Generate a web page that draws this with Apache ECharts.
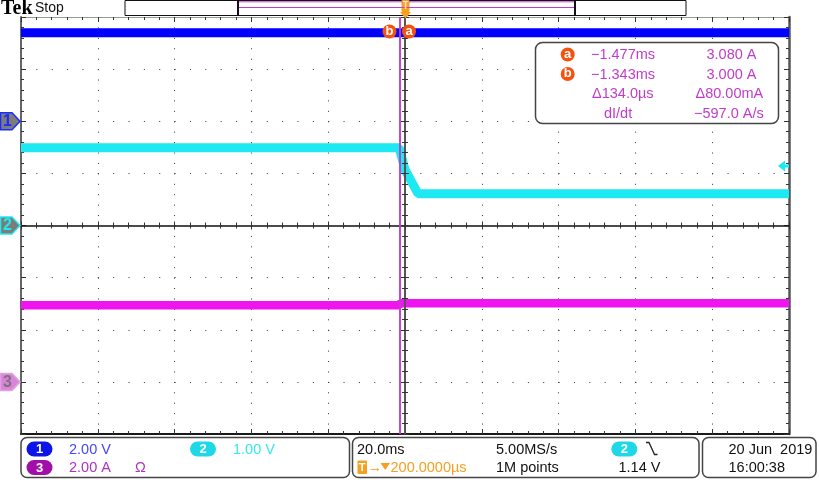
<!DOCTYPE html>
<html><head><meta charset="utf-8">
<script src="https://cdn.jsdelivr.net/npm/echarts@6/dist/echarts.min.js"></script>
<style>html,body{margin:0;padding:0;background:#fff}#c{width:819px;height:500px}</style>
</head><body><div id="c"></div>
<script>
// ---- data ----
// time axis in ms: 20.0 ms/div, 10 divisions
const timeTicks = [-100, -80, -60, -40, -20, 0, 20, 40, 60, 80, 100];
// channel 1 (V), 2.00 V/div, marker at +2 div
const ch1Time  = [-100, 100];
const ch1Volts = [3.40, 3.40];
// channel 2 (V), 1.00 V/div, marker at 0 div
const ch2Time  = [-100, -1.5, 0.0, 3.4, 100];
const ch2Volts = [1.49, 1.49, 1.07, 0.61, 0.61];
// channel 3 (A), 2.00 A/div, marker at -3 div
const ch3Time  = [-100, -1.6, -1.2, 100];
const ch3Amps  = [2.94, 2.94, 3.02, 3.02];
// cursors (ms)
const cursorTimes = [-1.477, -1.343];
// trigger level ch2 (V)
const trigLevel = 1.14;
// channel scale (units/div) and marker offsets (div)
const ch1Scale = 2, ch1Offset = 2;
const ch2Scale = 1, ch2Offset = 0;
const ch3Scale = 2, ch3Offset = -3;

const toDiv = (v, s, o) => v / s + o;
const FONT = '"Liberation Sans", Arial, sans-serif';

const chart = echarts.init(document.getElementById('c'));

function xAx(extra) {
  return Object.assign({
    type: 'value', min: timeTicks[0], max: timeTicks[timeTicks.length - 1], interval: 20,
    axisLabel: {show: false}, splitLine: {show: false},
    axisTick: {show: false}, minorTick: {show: false},
    axisLine: {show: false, onZero: false}
  }, extra);
}
function yAx(extra) {
  return Object.assign({
    type: 'value', min: -4, max: 4, interval: 1,
    axisLabel: {show: false}, splitLine: {show: false},
    axisTick: {show: false}, minorTick: {show: false},
    axisLine: {show: false, onZero: false}
  }, extra);
}
const tk = c => ({color: c, width: 1});

const option = {
  animation: false,
  backgroundColor: '#fff',
  grid: {left: 21, top: 17, width: 768, height: 417, outerBoundsMode: 'none', containLabel: false},
  xAxis: [
    xAx({position: 'bottom',
      axisLine: {show: true, onZero: false, lineStyle: {color: '#1a1a1a', width: 2}},
      axisTick: {show: true, inside: true, length: 5, lineStyle: tk('#333')},
      minorTick: {show: true, splitNumber: 5, length: 3, lineStyle: tk('#333')},
      splitLine: {show: true, lineStyle: {color: '#333', width: 1, type: [1, 9.425]}}}),
    xAx({position: 'top',
      axisLine: {show: true, onZero: false, lineStyle: {color: '#999', width: 1}},
      axisTick: {show: true, inside: true, length: 5, lineStyle: tk('#333')},
      minorTick: {show: true, splitNumber: 5, length: 3, lineStyle: tk('#333')}}),
    xAx({position: 'bottom', offset: -208.5, z: 5,
      axisLine: {show: true, onZero: false, lineStyle: {color: '#111', width: 1.5}},
      axisTick: {show: true, inside: true, length: 4, lineStyle: tk('#333')},
      minorTick: {show: true, splitNumber: 5, length: 3, lineStyle: tk('#333')}}),
    xAx({position: 'bottom', offset: -208.5, z: 5,
      axisTick: {show: true, inside: false, length: 4, lineStyle: tk('#333')},
      minorTick: {show: true, splitNumber: 5, length: 3, lineStyle: tk('#333')}})
  ],
  yAxis: [
    yAx({position: 'left',
      axisLine: {show: true, onZero: false, lineStyle: {color: '#666', width: 2}},
      axisTick: {show: true, inside: true, length: 5, lineStyle: tk('#333')},
      minorTick: {show: true, splitNumber: 5, length: 3, lineStyle: tk('#333')},
      splitLine: {show: true, lineStyle: {color: '#333', width: 1, type: [1, 14.36]}}}),
    yAx({position: 'right',
      axisLine: {show: true, onZero: false, lineStyle: {color: '#555', width: 2.5}},
      axisTick: {show: true, inside: true, length: 5, lineStyle: tk('#333')},
      minorTick: {show: true, splitNumber: 5, length: 3, lineStyle: tk('#333')}}),
    yAx({position: 'left', offset: -384, z: 5,
      axisLine: {show: true, onZero: false, lineStyle: {color: '#555', width: 2}},
      axisTick: {show: true, inside: true, length: 4, lineStyle: tk('#333')},
      minorTick: {show: true, splitNumber: 5, length: 3, lineStyle: tk('#333')}}),
    yAx({position: 'left', offset: -384, z: 5,
      axisTick: {show: true, inside: false, length: 4, lineStyle: tk('#333')},
      minorTick: {show: true, splitNumber: 5, length: 3, lineStyle: tk('#333')}})
  ],
  series: [
    {type: 'line', xAxisIndex: 0, yAxisIndex: 0, showSymbol: false, silent: true, z: 3,
     data: ch1Time.map((t, i) => [t, toDiv(ch1Volts[i], ch1Scale, ch1Offset)]),
     lineStyle: {color: '#0000ff', width: 9}},
    {type: 'line', xAxisIndex: 0, yAxisIndex: 0, showSymbol: false, silent: true, z: 3,
     data: ch2Time.map((t, i) => [t, toDiv(ch2Volts[i], ch2Scale, ch2Offset)]),
     lineStyle: {color: '#1ee8f2', width: 9}},
    {type: 'line', xAxisIndex: 0, yAxisIndex: 0, showSymbol: false, silent: true, z: 3,
     data: ch3Time.map((t, i) => [t, toDiv(ch3Amps[i], ch3Scale, ch3Offset)]),
     lineStyle: {color: '#f014f0', width: 8.5},
     markLine: {silent: true, symbol: 'none', label: {show: false}, z: 6,
       lineStyle: {color: '#c03cc8', width: 1.5, type: 'solid'},
       data: cursorTimes.map(t => ({xAxis: t}))}}
  ]
};
chart.setOption(option);

// ---- decorations ----
const P = (t, d) => chart.convertToPixel({xAxisIndex: 0, yAxisIndex: 0}, [t, d]);
const els = [];
function txt(x, y, s, font, fill, align) {
  els.push({type: 'text', x: x, y: y, z: 100,
    style: {text: s, font: font, fill: fill, align: align || 'left', verticalAlign: 'middle',
            textAlign: align || 'left', textVerticalAlign: 'middle'}});
}
function rrect(x, y, w, h, r, fill, stroke, lw) {
  els.push({type: 'rect', z: 99, shape: {x: x, y: y, width: w, height: h, r: r},
    style: {fill: fill, stroke: stroke, lineWidth: lw || 0}});
}
function pill(cx, cy, label, color) {
  rrect(cx - 13, cy - 7.5, 26, 15, 7.5, color, null, 0);
  txt(cx, cy + 0.5, label, 'bold 13px ' + FONT, '#fff', 'center');
}
function circ(cx, cy, label) {
  els.push({type: 'circle', z: 100, shape: {cx: cx, cy: cy, r: 7}, style: {fill: '#f5520f'}});
  txt(cx, cy - 0.5, label, 'bold 13px ' + FONT, '#fff', 'center');
}
// Tek Stop
txt(1, 8.5, 'Tek', 'bold 20px "Liberation Serif", serif', '#000');
txt(35, 8.5, 'Stop', '14px ' + FONT, '#111');
// record bar
els.push({type: 'rect', z: 99, shape: {x: 125, y: 0.5, width: 561, height: 15}, style: {fill: '#fff', stroke: '#111', lineWidth: 1}});
els.push({type: 'line', z: 100, shape: {x1: 239, y1: 1.8, x2: 575, y2: 1.8}, style: {stroke: '#c040c8', lineWidth: 1}});
els.push({type: 'line', z: 100, shape: {x1: 239, y1: 7.5, x2: 575, y2: 7.5}, style: {stroke: '#c040c8', lineWidth: 1.2}});
els.push({type: 'line', z: 100, shape: {x1: 238, y1: 0, x2: 238, y2: 16}, style: {stroke: '#111', lineWidth: 2}});
els.push({type: 'line', z: 100, shape: {x1: 575, y1: 0, x2: 575, y2: 16}, style: {stroke: '#111', lineWidth: 2}});
// trigger position marker
rrect(401.5, 0, 8, 12, 1, '#f5a020', null, 0);
txt(405.5, 6.5, 'T', 'bold 10px ' + FONT, '#fde6b0', 'center');
els.push({type: 'polygon', z: 100, shape: {points: [[400, 12], [411, 12], [405.5, 18.5]]}, style: {fill: '#f5a020'}});
// cursor labels
circ(389.5, 31.5, 'b');
circ(409, 31.5, 'a');
// channel markers
function chMarker(div, label, fill, stroke, tcol) {
  const y = P(0, div)[1];
  els.push({type: 'polygon', z: 100, shape: {points: [[0.5, y - 8.5], [12, y - 8.5], [20, y], [12, y + 8.5], [0.5, y + 8.5]]},
    style: {fill: fill, stroke: stroke, lineWidth: 1.5}});
  txt(7.5, y + 0.5, label, 'bold 16px ' + FONT, tcol, 'center');
}
chMarker(ch1Offset, '1', '#7c7c78', '#1a2cff', '#1a2cff');
chMarker(ch2Offset, '2', '#7c7c78', '#20e8f0', '#20e8f0');
chMarker(ch3Offset, '3', '#d884d8', '#e0a0e0', '#807080');
// trigger level arrow (ch2)
const ty = P(0, toDiv(trigLevel, ch2Scale, ch2Offset))[1];
els.push({type: 'polygon', z: 100, shape: {points: [[778, ty], [785, ty - 5.5], [785, ty - 1.5], [789, ty - 1.5], [789, ty + 1.5], [785, ty + 1.5], [785, ty + 5.5]]},
  style: {fill: '#1ee8f2'}});
// cursor readout box
const RC = '#c03cc8';
const RF = '14.5px ' + FONT;
rrect(535.5, 42.5, 243, 81, 7, '#fff', '#444', 1.5);
circ(567.7, 54.5, 'a');
circ(567.7, 74, 'b');
txt(591, 55, '\u22121.477ms', RF, RC);
txt(706.5, 55, '3.080 A', RF, RC);
txt(591, 74.5, '\u22121.343ms', RF, RC);
txt(706.5, 74.5, '3.000 A', RF, RC);
txt(592, 94, '\u0394134.0\u00b5s', RF, RC);
txt(695.5, 94, '\u039480.00mA', RF, RC);
txt(604, 113.5, 'dI/dt', RF, RC);
txt(694, 113.5, '\u2212597.0 A/s', RF, RC);
// bottom boxes
const BF = '14.5px ' + FONT;
rrect(21, 437.5, 328.5, 40, 6, '#fff', '#444', 1.5);
rrect(352.5, 437.5, 346.5, 40, 6, '#fff', '#444', 1.5);
rrect(702.5, 437.5, 113.5, 40, 6, '#fff', '#444', 1.5);
pill(39.5, 449, '1', '#0c14e8');
txt(69, 449.5, '2.00 V', BF, '#4646ff');
pill(203, 449, '2', '#1ed8e8');
txt(233, 449.5, '1.00 V', BF, '#30e8f0');
pill(39.5, 467.5, '3', '#a010a8');
txt(69, 468, '2.00 A', BF, '#b030c0');
txt(135, 468, '\u03a9', BF, '#b030c0');
txt(357, 449.5, '20.0ms', BF, '#111');
rrect(357.5, 460.5, 9.5, 13.5, 1, '#f5a020', null, 0);
txt(362.2, 467.5, 'T', 'bold 11px ' + FONT, '#fff', 'center');
txt(367.5, 468, '\u2192', BF, '#f5a020');
els.push({type: 'polygon', z: 100, shape: {points: [[380.5, 463], [390, 463], [385.25, 470]]}, style: {fill: '#f5a020'}});
txt(390.5, 468, '200.0000\u00b5s', BF, '#f5a020');
txt(496, 449.5, '5.00MS/s', BF, '#111');
txt(496, 468, '1M points', BF, '#111');
pill(624.3, 449, '2', '#1ed8e8');
els.push({type: 'polyline', z: 100, shape: {points: [[646, 442.5], [649, 442.5], [654.5, 454.5], [657.5, 454.5]]}, style: {stroke: '#222', lineWidth: 1.3, fill: null}});
txt(618.5, 468, '1.14 V', BF, '#111');
txt(728.5, 449.5, '20 Jun  2019', BF, '#111');
txt(728.5, 468, '16:00:38', BF, '#111');

chart.setOption({graphic: {elements: els}});
</script>
</body></html>
